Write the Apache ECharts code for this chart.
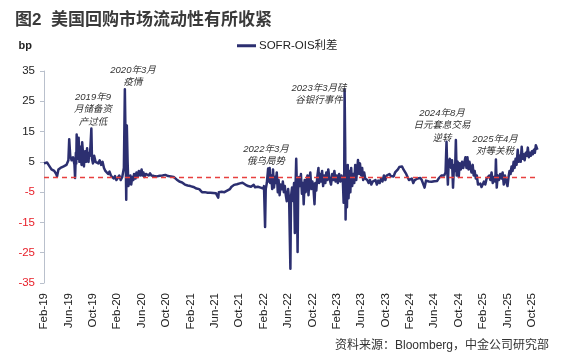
<!DOCTYPE html>
<html><head><meta charset="utf-8">
<script src="https://cdn.jsdelivr.net/npm/echarts@6/dist/echarts.min.js"></script>
<style>html,body{margin:0;padding:0;background:#fff}#c{width:572px;height:360px}</style>
</head><body><div id="c"></div>
<script>
// ---- data (bp) ----
const d2019 = ['02-01','02-08','02-15','02-22','03-01','03-08','03-15','03-22','04-01','04-05','04-12','04-22','05-01','05-08','05-15','05-22','06-01','06-05','06-10','06-17','06-24','07-01','07-04','07-08','07-10','07-12','07-15','07-17','07-20','07-22','07-26','07-29','08-01','08-04','08-06','08-09','08-12','08-15','08-18','08-21','08-24','08-29','09-03','09-06','09-10','09-13','09-17','09-24','09-27','10-02','10-08','10-15','10-22','10-29','11-05','11-12','11-19','11-26','12-03','12-10','12-17','12-24','12-31'];
const v2019 = [4.5,5.0,4.8,4.0,3.5,2.5,3.0,2.0,1.0,0.2,2.5,3.0,2.5,3.5,3.0,4.0,5.5,12.5,7.0,5.5,6.5,4.0,-0.3,8.0,4.5,14.0,7.5,6.0,11.0,13.0,5.0,9.0,10.0,5.5,4.0,11.5,9.0,5.0,3.5,7.0,8.5,5.0,9.5,6.0,5.0,8.0,7.0,16.0,6.0,4.5,7.0,5.0,5.5,4.5,5.5,4.0,5.0,3.0,2.0,1.5,1.0,1.8,0.5];
const d2020 = ['01-07','01-14','01-21','01-28','02-04','02-11','02-18','02-25','03-04','03-09','03-12','03-16','03-19','03-23','03-27','04-01','04-06','04-10','04-15','04-20','04-24','05-01','05-06','05-12','05-18','05-25','06-01','06-05','06-10','06-15','06-22','06-29','07-06','07-13','07-20','07-27','08-03','08-10','08-17','08-24','08-31','09-07','09-14','09-21','09-28','10-05','10-12','10-19','10-26','11-02','11-09','11-16','11-23','11-30','12-07','12-14','12-21','12-28'];
const v2020 = [0.5,-0.5,0.3,-1.0,-0.5,0.5,-1.0,0.0,3.0,29.0,15.0,-7.5,17.0,5.0,-3.0,-1.5,0.5,-2.5,0.0,-1.0,1.0,-0.5,1.5,0.0,2.0,0.5,2.5,0.5,1.5,0.0,1.0,1.5,0.5,1.2,0.5,0.8,0.3,0.6,0.2,0.5,0.4,0.0,0.5,0.2,0.7,0.8,0.3,0.6,0.2,0.5,0.0,-0.3,-0.8,-1.2,-1.5,-2.0,-1.8,-2.2];
const d2021 = ['01-04','01-11','01-18','01-25','02-01','02-08','02-15','02-22','03-01','03-08','03-15','03-22','03-29','04-05','04-12','04-19','04-26','05-03','05-10','05-17','05-24','05-31','06-07','06-14','06-18','06-21','06-28','07-05','07-12','07-19','07-26','08-02','08-09','08-16','08-23','08-30','09-06','09-13','09-20','09-27','10-04','10-11','10-18','10-25','11-01','11-08','11-15','11-22','11-29','12-06','12-13','12-20','12-27'];
const v2021 = [-2.5,-2.3,-2.8,-2.6,-3.0,-2.8,-3.3,-3.5,-3.8,-4.3,-4.0,-4.6,-5.0,-5.3,-5.0,-5.6,-5.2,-5.5,-5.2,-5.7,-5.3,-5.6,-5.4,-5.6,-6.8,-5.0,-4.8,-4.9,-4.7,-5.0,-4.6,-4.5,-4.3,-4.0,-3.3,-3.0,-2.6,-2.2,-2.4,-2.0,-2.1,-2.3,-1.9,-2.2,-2.5,-2.8,-3.0,-2.7,-3.2,-3.0,-2.6,-3.4,-2.9];
const d2022 = ['01-03','01-10','01-17','01-24','01-31','02-03','02-08','02-11','02-16','02-22','02-25','03-01','03-04','03-09','03-14','03-18','03-23','03-28','04-01','04-06','04-11','04-15','04-20','04-25','05-02','05-06','05-11','05-16','05-21','05-26','06-02','06-07','06-13','06-16','06-21','06-27','07-01','07-05','07-08','07-12','07-15','07-19','07-22','07-27','08-02','08-05','08-10','08-15','08-19','08-24','08-29','09-02','09-07','09-12','09-16','09-21','09-26','10-01','10-06','10-12','10-16','10-21','10-26','11-01','11-04','11-09','11-14','11-19','11-24','11-29','12-05','12-10','12-15','12-20','12-26'];
const v2022 = [-3.2,-2.6,-3.5,-3.0,-3.8,-3.0,-16.5,-4.0,-2.0,2.8,-1.5,3.0,-2.0,0.5,-4.0,2.5,-3.5,0.0,-2.0,1.5,-5.0,-1.0,-6.0,-2.5,-4.0,-1.5,-5.0,-3.0,-6.0,-8.0,-4.0,-8.0,-30.3,-6.5,-3.5,-8.0,-2.0,-18.5,-5.0,6.0,-2.0,-24.8,-4.0,0.0,-3.0,1.0,-5.5,-2.0,-9.0,-1.0,-5.0,-2.0,0.5,-6.0,-1.0,1.5,-4.0,-1.5,-3.0,-9.0,-2.0,-4.5,0.0,3.0,-2.0,1.0,-1.5,2.0,-3.0,0.5,-2.0,1.5,-1.0,2.5,-0.5];
const d2023 = ['01-03','01-09','01-14','01-20','01-26','02-01','02-06','02-12','02-18','02-23','03-01','03-05','03-08','03-10','03-13','03-15','03-18','03-22','03-26','03-30','04-04','04-08','04-12','04-17','04-22','04-27','05-02','05-07','05-12','05-16','05-21','05-26','06-01','06-06','06-11','06-16','06-21','06-26','07-01','07-08','07-15','07-22','07-29','08-05','08-12','08-19','08-26','09-02','09-09','09-16','09-23','09-30','10-07','10-14','10-21','10-28','11-04','11-11','11-18','11-25','12-02','12-09','12-16','12-23','12-30'];
const v2023 = [-2.5,1.0,-1.0,2.0,-1.5,0.5,-2.0,1.0,-1.5,0.5,-1.0,-8.5,0.0,29.0,10.0,-14.0,3.0,-10.0,4.0,-7.0,2.0,-5.0,3.0,-3.0,1.0,-2.0,4.0,-1.0,2.5,5.6,1.0,4.5,0.5,3.0,-1.0,1.5,-0.5,0.0,-1.0,-2.0,-1.0,-2.5,-1.5,-2.0,-1.0,-2.5,-1.2,-2.0,-0.5,-1.5,0.5,-1.0,0.5,0.0,1.0,0.3,0.8,0.2,1.5,1.0,2.5,3.3,2.8,3.5,2.5];
const d2024 = ['01-06','01-13','01-20','01-27','02-03','02-10','02-17','02-24','03-02','03-09','03-16','03-23','03-30','04-06','04-13','04-20','04-27','05-04','05-11','05-18','05-25','06-01','06-08','06-15','06-22','06-29','07-06','07-13','07-20','07-27','08-01','08-05','08-08','08-12','08-18','08-24','08-29','09-03','09-08','09-13','09-17','09-21','09-26','10-01','10-06','10-12','10-18','10-24','10-30','11-04','11-09','11-14','11-19','11-24','11-29','12-04','12-10','12-15','12-20','12-26','12-31'];
const v2024 = [2.0,1.0,0.0,-1.0,-1.5,-0.5,-2.0,-1.0,-1.5,-0.5,-1.0,-0.3,-1.0,-0.5,-3.5,-1.2,-1.8,-1.5,-1.0,-1.6,-1.2,-1.4,-0.8,-1.3,-0.5,-1.0,0.5,1.0,0.5,1.5,11.6,2.0,-2.5,5.0,6.0,3.0,5.5,-3.5,4.0,2.0,12.2,0.5,5.0,0.0,4.5,2.5,5.0,3.0,3.5,6.5,3.0,6.5,2.5,5.0,3.0,1.5,4.0,0.5,2.0,-0.5,0.5];
const d2025 = ['01-06','01-12','01-18','01-24','01-30','02-05','02-11','02-17','02-23','03-01','03-07','03-13','03-19','03-25','04-01','04-04','04-08','04-13','04-19','04-25','05-01','05-07','05-13','05-19','05-25','06-01','06-06','06-11','06-16','06-21','06-26','07-01','07-06','07-11','07-16','07-22','07-27','08-01','08-06','08-11','08-16','08-21','08-26','09-01','09-06','09-11','09-16','09-21','09-26','10-01','10-06','10-11','10-16','10-21','10-25','10-29'];
const v2025 = [-2.5,-3.0,-2.2,-3.3,-2.5,-1.5,-2.5,-0.5,-1.0,0.5,-1.0,1.5,-2.0,0.0,-1.5,5.8,-3.5,0.5,-1.0,1.0,-0.5,1.5,-2.5,0.5,-1.5,-3.0,0.0,2.0,1.0,3.5,2.0,5.0,3.0,6.0,4.0,9.0,5.0,7.0,5.0,10.0,6.0,7.5,5.5,8.0,7.0,9.7,6.5,8.0,7.0,8.5,7.5,9.0,8.0,10.5,11.0,9.0];

const xTickLabels = ['Feb-19','Jun-19','Oct-19','Feb-20','Jun-20','Oct-20','Feb-21','Jun-21','Oct-21','Feb-22','Jun-22','Oct-22','Feb-23','Jun-23','Oct-23','Feb-24','Jun-24','Oct-24','Feb-25','Jun-25','Oct-25'];
const yTicks = [-35,-25,-15,-5,5,15,25,35];
const seriesName = 'SOFR-OIS利差';

// month index since Feb-2019 (0 = 1 Feb 2019)
function mIdx(y, md) {
  const [mo, d] = md.split('-').map(Number);
  const dim = new Date(y, mo, 0).getDate();
  return (y - 2019) * 12 + (mo - 2) + (d - 1) / dim;
}
const years = [[2019,d2019,v2019],[2020,d2020,v2020],[2021,d2021,v2021],[2022,d2022,v2022],[2023,d2023,v2023],[2024,d2024,v2024],[2025,d2025,v2025]];
const points = [];
years.forEach(([y, ds, vs]) => ds.forEach((md, i) => points.push([mIdx(y, md), vs[i]])));
const xTickValues = xTickLabels.map((_, i) => i * 4);

const FONT = '"Liberation Sans", Arial, "Noto Sans CJK SC", sans-serif';
const CJK = '"Liberation Sans", "Noto Sans CJK SC", sans-serif';
const chart = echarts.init(document.getElementById('c'), null, {renderer: 'canvas'});

const ann = (txt, x, y) => ({
  type: 'text', x: x, y: y, z: 10,
  style: { text: txt, font: 'italic 9.5px ' + CJK, fill: '#333', align: 'center', verticalAlign: 'top', lineHeight: 12.5 }
});

chart.setOption({
  animation: false,
  backgroundColor: '#fff',
  textStyle: { fontFamily: FONT },
  title: {
    text: '图2  美国回购市场流动性有所收紧',
    left: 10, top: 7,
    textStyle: { fontSize: 17, fontWeight: 'bold', color: '#3a3a3a', fontFamily: CJK }
  },
  legend: {
    data: [seriesName], left: 232, top: 35,
    icon: 'rect', itemWidth: 19, itemHeight: 3, itemGap: 4,
    textStyle: { fontSize: 11.5, color: '#222', fontFamily: CJK, padding: [0,0,0,-2] }
  },
  grid: { left: 44, right: 34, top: 71, bottom: 77 },
  xAxis: {
    type: 'value', min: 0, max: 81,
    axisLine: { show: false }, axisTick: { show: false }, splitLine: { show: false },
    axisLabel: {
      customValues: xTickValues,
      rotate: 90, margin: 10, fontSize: 11.5, color: '#222',
      formatter: v => xTickLabels[Math.round(v / 4)] || ''
    }
  },
  yAxis: {
    type: 'value', min: -35, max: 35,
    name: 'bp', nameLocation: 'end', nameGap: 0,
    nameTextStyle: { fontSize: 11, fontWeight: 'bold', color: '#222', align: 'right', padding: [0, 12, 20, 0] },
    axisLine: { show: true, lineStyle: { color: '#b9c0cc', width: 1 } },
    axisTick: { show: true, customValues: yTicks, length: 4, lineStyle: { color: '#b9c0cc' } },
    splitLine: { show: false },
    axisLabel: {
      customValues: yTicks, margin: 9, fontSize: 11.5,
      color: v => (Number(v) < 0 ? '#e8202a' : '#222')
    }
  },
  series: [
    {
      name: seriesName, type: 'line', data: points, showSymbol: false, symbol: 'none',
      lineStyle: { color: '#2c2f70', width: 2.5, join: 'round' }, itemStyle: { color: '#2c2f70' }, z: 2
    },
    {
      name: 'zero', type: 'line', data: [], z: 5, silent: true,
      markLine: {
        silent: true, symbol: 'none', label: { show: false },
        lineStyle: { color: '#e8403f', type: [5, 4], width: 1.3 },
        data: [{ yAxis: 0 }]
      }
    }
  ],
  graphic: [
    ann('2019年9\n月储备资\n产过低', 93, 91),
    ann('2020年3月\n疫情', 133, 64),
    ann('2022年3月\n俄乌局势', 266, 143),
    ann('2023年3月硅\n谷银行事件', 319, 82),
    ann('2024年8月\n日元套息交易\n逆转', 442, 107),
    ann('2025年4月\n对等关税', 495, 133),
    { type: 'text', right: 23, top: 340, style: { text: '资料来源：Bloomberg，中金公司研究部', font: '12px ' + CJK, fill: '#333' } }
  ]
});
</script>
</body></html>
